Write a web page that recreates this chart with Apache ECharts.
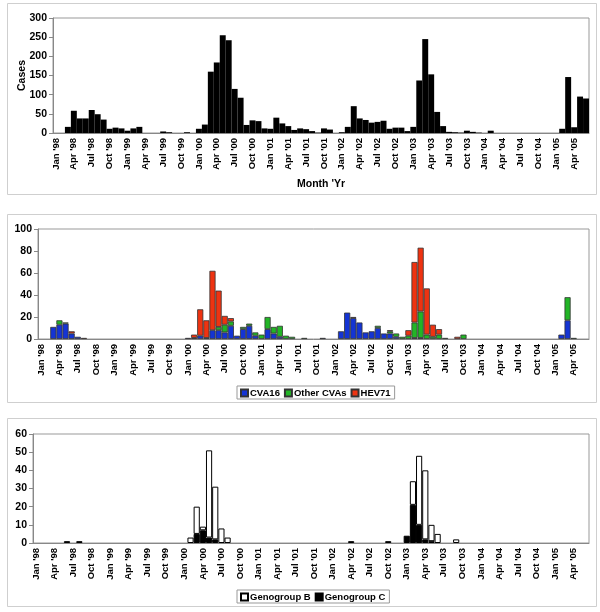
<!DOCTYPE html>
<html>
<head>
<meta charset="utf-8">
<script src="https://cdn.jsdelivr.net/npm/echarts@6/dist/echarts.min.js"></script>
<style>html,body{margin:0;padding:0;background:#fff;}#c{width:600px;height:612px;}</style>
</head>
<body>
<div id="c"></div>
<script>
var months = [
"Jan '98","Feb '98","Mar '98","Apr '98","May '98","Jun '98","Jul '98","Aug '98","Sep '98","Oct '98","Nov '98","Dec '98",
"Jan '99","Feb '99","Mar '99","Apr '99","May '99","Jun '99","Jul '99","Aug '99","Sep '99","Oct '99","Nov '99","Dec '99",
"Jan '00","Feb '00","Mar '00","Apr '00","May '00","Jun '00","Jul '00","Aug '00","Sep '00","Oct '00","Nov '00","Dec '00",
"Jan '01","Feb '01","Mar '01","Apr '01","May '01","Jun '01","Jul '01","Aug '01","Sep '01","Oct '01","Nov '01","Dec '01",
"Jan '02","Feb '02","Mar '02","Apr '02","May '02","Jun '02","Jul '02","Aug '02","Sep '02","Oct '02","Nov '02","Dec '02",
"Jan '03","Feb '03","Mar '03","Apr '03","May '03","Jun '03","Jul '03","Aug '03","Sep '03","Oct '03","Nov '03","Dec '03",
"Jan '04","Feb '04","Mar '04","Apr '04","May '04","Jun '04","Jul '04","Aug '04","Sep '04","Oct '04","Nov '04","Dec '04",
"Jan '05","Feb '05","Mar '05","Apr '05","May '05","Jun '05"];

// Panel 1: total cases per month
var totalCases = [
0,0,16,58,38,38,60,49,35,11,14,12,
6,12,16,0,0,0,4,2,0,0,2,0,
11,22,160,184,255,242,115,92,21,33,31,12,
11,40,25,18,8,12,10,5,1,12,9,0,
2,16,70,38,34,27,29,32,11,14,14,5,
16,137,245,153,55,18,3,2,1,6,3,1,
0,6,0,0,0,0,0,0,0,0,0,0,
0,11,146,15,95,90];

// Panel 2: typed isolates
var cva16 = [
0,0,11,13,14,5,2,0,0,0,0,0,
0,0,0,0,0,0,0,0,0,0,0,0,
1,1,3,1,8,8,6,12,3,9,12,3,
0,9,5,2,0,0,0,0,0,0,1,0,
0,7,24,19,15,6,7,10,5,5,2,0,
0,1,1,0,0,0,0,0,0,0,0,0,
0,0,0,0,0,0,0,0,0,0,0,0,
0,4,17,0,0,0];
var otherCvas = [
0,0,0,4,1,0,0,0,0,0,0,0,
0,0,0,0,0,0,0,0,0,0,0,0,
0,0,0,0,0,3,7,4,0,2,2,3,
4,11,6,10,3,2,0,1,0,0,0,0,
0,0,0,0,0,0,0,2,0,2,3,2,
3,14,24,4,2,4,1,0,0,4,0,0,
0,0,0,0,0,0,0,0,0,0,0,0,
0,0,21,1,0,0];
var hev71 = [
0,0,0,0,0,2,0,1,0,0,0,0,
0,0,0,0,0,0,0,0,0,0,0,0,
0,3,24,16,54,33,8,3,0,0,0,0,
0,0,0,0,0,0,0,0,0,0,0,0,
0,0,0,1,0,0,0,0,0,1,0,0,
5,55,58,42,11,5,0,0,2,0,0,0,
0,0,0,0,0,0,0,0,0,0,0,0,
0,0,0,0,0,0];

// Panel 3: genogroups
var genoB = [
0,0,0,0,0,0,0,0,0,0,0,0,
0,0,0,0,0,0,0,0,0,0,0,0,
0,3,15,2,48,29,8,3,0,0,0,0,
0,0,0,0,0,0,0,0,0,0,0,0,
0,0,0,0,0,0,0,0,0,0,0,0,
0,13,38,38,9,5,0,0,2,0,0,0,
0,0,0,0,0,0,0,0,0,0,0,0,
0,0,0,0,0,0];
var genoC = [
0,0,0,0,0,1,0,1,0,0,0,0,
0,0,0,0,0,0,0,0,0,0,0,0,
0,0,5,7,3,2,0,0,0,0,0,0,
0,0,0,0,0,0,0,0,0,0,0,0,
0,0,0,1,0,0,0,0,0,1,0,0,
4,21,10,2,1,0,0,0,0,0,0,0,
0,0,0,0,0,0,0,0,0,0,0,0,
0,0,0,0,0,0];

var seriesNames2 = ['CVA16', 'Other CVAs', 'HEV71'];
var seriesNames3 = ['Genogroup B', 'Genogroup C'];

function nz(arr) { return arr.map(function (v) { return v === 0 ? '-' : v; }); }

var FONT = '"Liberation Sans", Arial, sans-serif';
var lbl = { fontFamily: FONT, fontWeight: 'bold', fontSize: 10, color: '#000' };

function xAx(gi) {
  return {
    type: 'category', gridIndex: gi, data: months,
    axisLine: { lineStyle: { color: '#888', width: 1 } },
    axisTick: { interval: 0, length: 4, lineStyle: { color: '#888' } },
    axisLabel: Object.assign({ interval: 2, rotate: 90, margin: 5 }, lbl, { fontSize: 9.5 }),
    splitLine: { show: false }
  };
}
function yAx(gi, max, step, name) {
  var o = {
    type: 'value', gridIndex: gi, min: 0, max: max, interval: step,
    axisLine: { show: true, lineStyle: { color: '#888', width: 1 } },
    axisTick: { show: true, length: 4, lineStyle: { color: '#888' } },
    axisLabel: Object.assign({ margin: 6 }, lbl, { fontSize: 10.5 }),
    splitLine: { show: false }
  };
  if (name) {
    o.name = name; o.nameLocation = 'middle'; o.nameGap = 25; o.nameRotate = 90;
    o.nameMoveOverlap = false;
    o.nameTextStyle = Object.assign({}, lbl, { fontSize: 10.5 });
  }
  return o;
}
function legendCfg(names, top) {
  return {
    data: names, left: 237, top: top, orient: 'horizontal', icon: 'rect',
    itemWidth: 7, itemHeight: 7, itemGap: 4, padding: [2, 4, 1, 3],
    borderColor: '#999', borderWidth: 1,
    textStyle: Object.assign({}, lbl, { fontSize: 9.5, padding: [0, 0, 0, -3] })
  };
}

var frame = { stroke: '#cfcfcf', lineWidth: 1, fill: 'none' };
var chart = echarts.init(document.getElementById('c'), null, { renderer: 'canvas' });
chart.setOption({
  animation: false,
  backgroundColor: '#fff',
  textStyle: { fontFamily: FONT },
  graphic: [
    { type: 'rect', shape: { x: 7.5, y: 3.5, width: 589, height: 191 }, style: frame, silent: true, z: -10 },
    { type: 'rect', shape: { x: 7.5, y: 214.5, width: 589, height: 188 }, style: frame, silent: true, z: -10 },
    { type: 'rect', shape: { x: 7.5, y: 418.5, width: 589, height: 188 }, style: frame, silent: true, z: -10 }
  ],
  grid: [
    { left: 53, top: 18, width: 536, height: 115, show: true, borderColor: '#999', borderWidth: 1, containLabel: false },
    { left: 38, top: 229, width: 551, height: 110, show: true, borderColor: '#999', borderWidth: 1, containLabel: false },
    { left: 33, top: 434, width: 556, height: 109, show: true, borderColor: '#999', borderWidth: 1, containLabel: false }
  ],
  xAxis: [
    Object.assign(xAx(0), { name: "Month 'Yr", nameLocation: 'middle', nameGap: 46, nameTextStyle: Object.assign({}, lbl, { fontSize: 10.5 }) }),
    xAx(1), xAx(2)
  ],
  yAxis: [yAx(0, 300, 50, 'Cases'), yAx(1, 100, 20), yAx(2, 60, 10)],
  legend: [legendCfg(seriesNames2, 386), legendCfg(seriesNames3, 590)],
  series: [
    { name: 'Cases', type: 'bar', xAxisIndex: 0, yAxisIndex: 0, data: nz(totalCases), barCategoryGap: '0%', itemStyle: { color: '#000' } },
    { name: seriesNames2[0], type: 'bar', stack: 's2', xAxisIndex: 1, yAxisIndex: 1, data: nz(cva16), barCategoryGap: '0%', itemStyle: { color: '#1434D4', borderColor: '#333', borderWidth: 0.8 } },
    { name: seriesNames2[1], type: 'bar', stack: 's2', xAxisIndex: 1, yAxisIndex: 1, data: nz(otherCvas), barCategoryGap: '0%', itemStyle: { color: '#22B526', borderColor: '#333', borderWidth: 0.8 } },
    { name: seriesNames2[2], type: 'bar', stack: 's2', xAxisIndex: 1, yAxisIndex: 1, data: nz(hev71), barCategoryGap: '0%', itemStyle: { color: '#EE3311', borderColor: '#333', borderWidth: 0.8 } },
    { name: seriesNames3[1], type: 'bar', stack: 's3', xAxisIndex: 2, yAxisIndex: 2, data: nz(genoC), barCategoryGap: '0%', itemStyle: { color: '#000', borderColor: '#000', borderWidth: 1 } },
    { name: seriesNames3[0], type: 'bar', stack: 's3', xAxisIndex: 2, yAxisIndex: 2, data: nz(genoB), barCategoryGap: '0%', itemStyle: { color: '#fff', borderColor: '#000', borderWidth: 1 } }
  ]
});
</script>
</body>
</html>
